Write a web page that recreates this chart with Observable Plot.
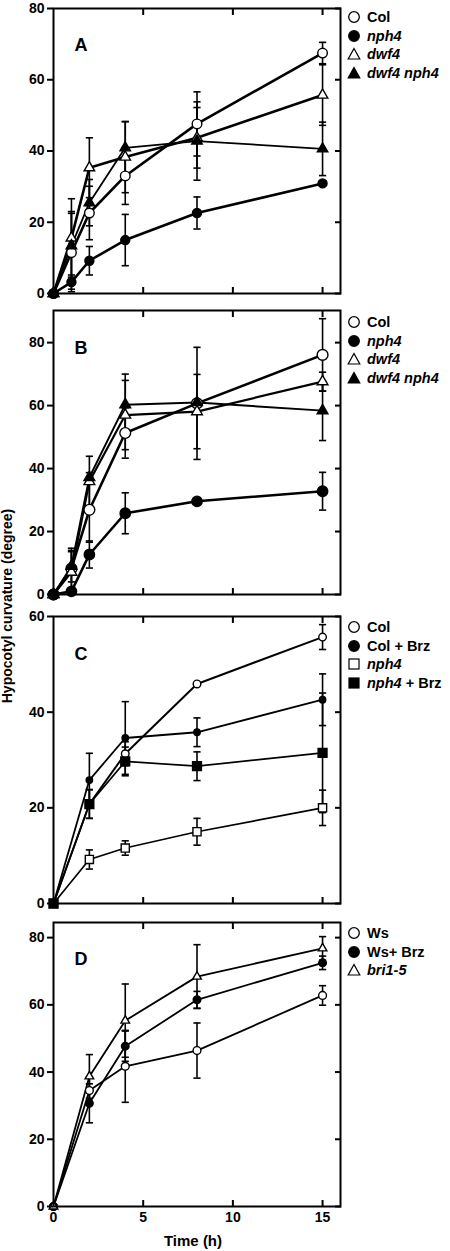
<!DOCTYPE html>
<html><head><meta charset="utf-8">
<script src="https://cdn.jsdelivr.net/npm/d3@7"></script>
<script src="https://cdn.jsdelivr.net/npm/@observablehq/plot@0.6"></script>
<style>
body{margin:0;background:#fff;font-family:"Liberation Sans",Arial,sans-serif;}
#wrap{position:relative;width:450px;height:1251px;overflow:hidden;background:#fff;}
.panel{position:absolute;left:0;}
.legend{position:absolute;left:348px;font-weight:bold;font-size:14.5px;color:#000;}
.legend .row{display:flex;align-items:center;height:18.5px;white-space:nowrap;}
.legend svg{width:12px;height:12px;margin-right:7px;overflow:visible;flex:none;}
.ylab{position:absolute;left:7px;top:606px;transform:translate(-50%,-50%) rotate(-90deg);white-space:nowrap;font-weight:bold;font-size:14px;}
.xlab{position:absolute;left:193px;top:1240px;transform:translate(-50%,-50%);white-space:nowrap;font-weight:bold;font-size:15px;}
</style></head>
<body><div id="wrap"></div>
<script>
// ---------- data ----------
const timesAB = [0, 1, 2, 4, 8, 15];
const timesCD = [0, 2, 4, 8, 15];

const aCol = [0, 11.5, 22.6, 33, 47.6, 67.5];
const aColErr = [0, 11, 7.5, 8, 9, 3];
const aNph4 = [0, 3.2, 9.2, 15, 22.6, 30.9];
const aNph4Err = [0, 2, 4, 7.2, 4.5, 0];
const aDwf4 = [0, 15.6, 35.3, 38.3, 43.7, 55.7];
const aDwf4Err = [0, 11, 8.4, 10, 8.5, 8.5];
const aDwf4Nph4 = [0, 13.4, 25.5, 40.9, 42.8, 40.6];
const aDwf4Nph4Err = [0, 9.6, 6.5, 7.3, 11, 7.5];

const bCol = [0, 8.2, 26.9, 51.3, 60.7, 76.1];
const bColErr = [0, 6.5, 10.3, 8, 17.8, 11.5];
const bNph4 = [0, 1, 12.7, 25.8, 29.6, 32.8];
const bNph4Err = [0, 0, 4.3, 6.5, 0, 6];
const bDwf4 = [0, 7.1, 35.9, 57, 58.1, 67.6];
const bDwf4Err = [0, 6.5, 8, 11, 11.8, 3];
const bDwf4Nph4 = [0, 9, 37.2, 60.3, 61, 58.4];
const bDwf4Nph4Err = [0, 5, 1.5, 9.7, 0, 9.5];

const cCol = [0, 20.8, 31.3, 45.9, 55.7];
const cColErr = [0, 3, 2.5, 0, 2.6];
const cColBrz = [0, 25.8, 34.6, 35.8, 42.6];
const cColBrzErr = [0, 5.6, 7.6, 3, 5.4];
const cNph4 = [0, 9.2, 11.6, 15, 20];
const cNph4Err = [0, 2, 1.5, 2.8, 3.7];
const cNph4Brz = [0, 20.8, 29.7, 28.7, 31.5];
const cNph4BrzErr = [0, 3, 3, 3, 12.5];

const dWs = [0, 34.5, 41.7, 46.4, 62.8];
const dWsErr = [0, 4, 10.7, 8.2, 2.9];
const dWsBrz = [0, 30.7, 47.7, 61.5, 72.5];
const dWsBrzErr = [0, 5.8, 4.5, 2.5, 2];
const dBri = [0, 38.7, 55.3, 68.4, 76.8];
const dBriErr = [0, 6.5, 10.9, 9.5, 3.5];

const xTicks = [5, 10, 15];
const xLabelTicks = [0, 5, 10, 15];
const yTicks80 = [0, 20, 40, 60, 80];
const yTicks60 = [0, 20, 40, 60];

// ---------- helpers ----------
const capSymbol = {
  draw(ctx, size) {
    const w = Math.sqrt(size / Math.PI);
    ctx.moveTo(-w, 0); ctx.lineTo(w, 0);
  }
};

function legendIcon(symbol, filled) {
  const f = filled ? "#000" : "#fff";
  let shape;
  if (symbol === "circle") shape = `<circle cx="6" cy="6" r="5.3" fill="${f}" stroke="#000" stroke-width="1.3"/>`;
  else if (symbol === "triangle") shape = `<polygon points="6,0.5 11.8,11 0.2,11" fill="${f}" stroke="#000" stroke-width="1.2"/>`;
  else shape = `<rect x="1" y="1" width="10" height="10" fill="${f}" stroke="#000" stroke-width="1.2"/>`;
  return `<svg viewBox="0 0 12 12">${shape}</svg>`;
}

function panel(cfg) {
  const mt = 12, mb = cfg.showX ? 45 : 12;
  const frameH = cfg.frameBottom - cfg.frameTop;
  const marks = [];
  const allRows = [];
  cfg.series.forEach(s => {
    const rows = cfg.times.map((t, i) => ({series: s.name, t, v: s.values[i], e: s.errors[i]}));
    s.rows = rows;
    allRows.push(...rows);
    marks.push(Plot.line(rows, {x: "t", y: "v", stroke: "#000", strokeWidth: s.lw}));
  });
  const errRows = allRows.filter(d => d.e > 0);
  marks.push(Plot.ruleX(errRows, {x: "t", y1: d => d.v - d.e, y2: d => d.v + d.e, stroke: "#000", strokeWidth: 1.6}));
  marks.push(Plot.dot(errRows, {x: "t", y: d => d.v + d.e, symbol: capSymbol, r: 3.6, stroke: "#000", strokeWidth: 1.6}));
  marks.push(Plot.dot(errRows, {x: "t", y: d => d.v - d.e, symbol: capSymbol, r: 3.6, stroke: "#000", strokeWidth: 1.6}));
  cfg.series.forEach(s => {
    marks.push(Plot.dot(s.rows, {x: "t", y: "v", symbol: s.symbol, r: s.r, fill: s.filled ? "#000" : "#fff", stroke: "#000", strokeWidth: 1.4}));
  });
  marks.push(Plot.frame({stroke: "#000", strokeWidth: 2}));
  marks.push(Plot.axisY(cfg.yTicks, {anchor: "left", tickSize: 6, tickPadding: 3, strokeWidth: 2, label: null, fontSize: 14, fontWeight: "bold"}));
  marks.push(Plot.axisY(cfg.yTicks, {anchor: "right", tickSize: -6, tickFormat: () => "", strokeWidth: 2, label: null}));
  marks.push(Plot.axisX(xTicks, {anchor: "top", tickSize: -6, tickFormat: () => "", strokeWidth: 2, label: null}));
  marks.push(Plot.axisX(xTicks, {anchor: "bottom", tickSize: -6, tickFormat: () => "", strokeWidth: 2, label: null}));
  if (cfg.showX) {
    marks.push(Plot.axisX(xLabelTicks, {anchor: "bottom", tickSize: 0, tickPadding: 6, label: null, fontSize: 14, fontWeight: "bold"}));
  }
  marks.push(Plot.text([cfg.letter], {frameAnchor: "top-left", dx: 21, dy: cfg.letterDy, textAnchor: "start", fontSize: 18, fontWeight: "bold"}));

  const svg = Plot.plot({
    width: 450,
    height: frameH + mt + mb,
    marginLeft: 53, marginRight: 110, marginTop: mt, marginBottom: mb,
    x: {domain: [0, 16], axis: null},
    y: {domain: cfg.yDomain, axis: null},
    style: {background: "transparent", overflow: "visible", fontFamily: "'Liberation Sans', Arial, sans-serif", fontWeight: "bold", fontSize: "14px", color: "#000"},
    marks
  });
  svg.classList.add("panel");
  svg.style.position = "absolute";
  svg.style.top = (cfg.frameTop - mt) + "px";
  svg.style.left = "0px";
  document.getElementById("wrap").appendChild(svg);

  const lg = document.createElement("div");
  lg.className = "legend";
  lg.style.top = (cfg.legendTop) + "px";
  lg.innerHTML = cfg.series.map(s => `<div class="row">${legendIcon(s.symbol, s.filled)}<span>${s.label}</span></div>`).join("");
  document.getElementById("wrap").appendChild(lg);
}

panel({
  letter: "A", letterDy: 30, times: timesAB, frameTop: 8, frameBottom: 293, yDomain: [0, 80], yTicks: yTicks80, legendTop: 8,
  series: [
    {name: "Col", label: "Col", values: aCol, errors: aColErr, symbol: "circle", filled: false, r: 4.8, lw: 2.6},
    {name: "nph4", label: "<i>nph4</i>", values: aNph4, errors: aNph4Err, symbol: "circle", filled: true, r: 4.5, lw: 2.6},
    {name: "dwf4", label: "<i>dwf4</i>", values: aDwf4, errors: aDwf4Err, symbol: "triangle", filled: false, r: 3.9, lw: 2.6},
    {name: "dwf4 nph4", label: "<i>dwf4 nph4</i>", values: aDwf4Nph4, errors: aDwf4Nph4Err, symbol: "triangle", filled: true, r: 3.9, lw: 1.8}
  ]
});
panel({
  letter: "B", letterDy: 31, times: timesAB, frameTop: 310, frameBottom: 594, yDomain: [0, 90.2], yTicks: yTicks80, legendTop: 313,
  series: [
    {name: "Col", label: "Col", values: bCol, errors: bColErr, symbol: "circle", filled: false, r: 5.4, lw: 2.6},
    {name: "nph4", label: "<i>nph4</i>", values: bNph4, errors: bNph4Err, symbol: "circle", filled: true, r: 5.2, lw: 2.6},
    {name: "dwf4", label: "<i>dwf4</i>", values: bDwf4, errors: bDwf4Err, symbol: "triangle", filled: false, r: 4, lw: 2.2},
    {name: "dwf4 nph4", label: "<i>dwf4 nph4</i>", values: bDwf4Nph4, errors: bDwf4Nph4Err, symbol: "triangle", filled: true, r: 4, lw: 2}
  ]
});
panel({
  letter: "C", letterDy: 31, times: timesCD, frameTop: 616, frameBottom: 903, yDomain: [0, 60], yTicks: yTicks60, legendTop: 618,
  series: [
    {name: "Col", label: "Col", values: cCol, errors: cColErr, symbol: "circle", filled: false, r: 3.8, lw: 2},
    {name: "Col + Brz", label: "Col + Brz", values: cColBrz, errors: cColBrzErr, symbol: "circle", filled: true, r: 3.2, lw: 1.8},
    {name: "nph4", label: "<i>nph4</i>", values: cNph4, errors: cNph4Err, symbol: "square", filled: false, r: 4.6, lw: 1.7},
    {name: "nph4 + Brz", label: "<i>nph4</i> + Brz", values: cNph4Brz, errors: cNph4BrzErr, symbol: "square", filled: true, r: 5, lw: 1.7}
  ]
});
panel({
  letter: "D", letterDy: 30, times: timesCD, frameTop: 922, frameBottom: 1206, yDomain: [0, 84.5], yTicks: yTicks80, legendTop: 924, showX: true,
  series: [
    {name: "Ws", label: "Ws", values: dWs, errors: dWsErr, symbol: "circle", filled: false, r: 3.9, lw: 1.8},
    {name: "Ws+ Brz", label: "Ws+ Brz", values: dWsBrz, errors: dWsBrzErr, symbol: "circle", filled: true, r: 3.8, lw: 1.8},
    {name: "bri1-5", label: "<i>bri1-5</i>", values: dBri, errors: dBriErr, symbol: "triangle", filled: false, r: 3.2, lw: 1.8}
  ]
});

const yl = document.createElement("div");
yl.className = "ylab"; yl.textContent = "Hypocotyl curvature (degree)";
document.getElementById("wrap").appendChild(yl);
const xl = document.createElement("div");
xl.className = "xlab"; xl.textContent = "Time (h)";
document.getElementById("wrap").appendChild(xl);
</script>
</body></html>
